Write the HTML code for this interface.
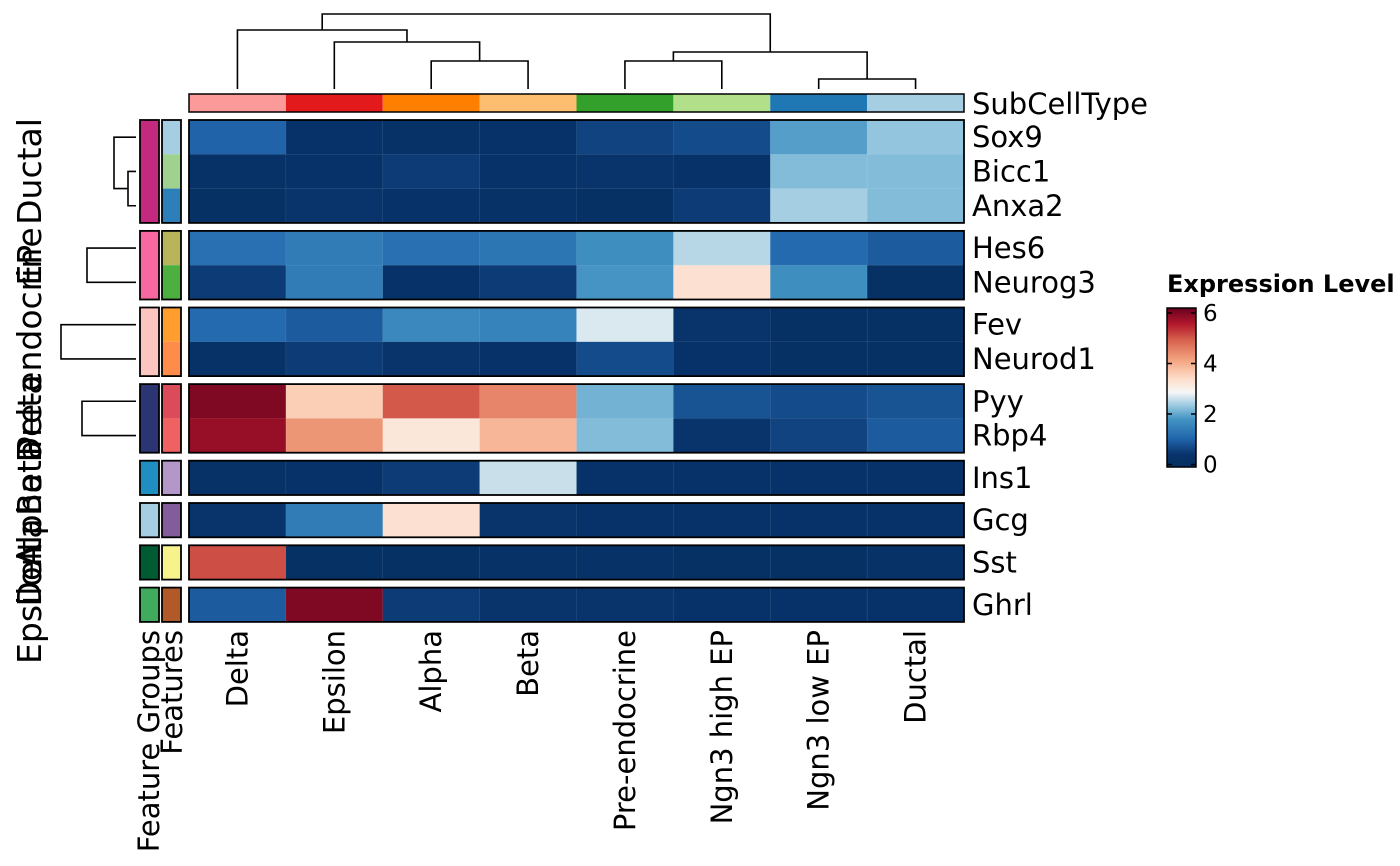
<!DOCTYPE html>
<html><head><meta charset="utf-8"><style>
html,body{margin:0;padding:0;background:#fff;}
svg{display:block;font-family:"DejaVu Sans","Liberation Sans",sans-serif;}
</style></head><body>
<svg id="chart" width="1400" height="866" viewBox="0 0 1400 866" xmlns="http://www.w3.org/2000/svg"></svg>
<script>
const columns=["Delta","Epsilon","Alpha","Beta","Pre-endocrine","Ngn3 high EP","Ngn3 low EP","Ductal"];
const columnColors=["#FB9A99","#E31A1C","#FF7F00","#FDBF6F","#33A02C","#B2DF8A","#1F78B4","#A6CEE3"];
const groups=["Ductal","EP","Pre-endocrine","Delta","Beta","Alpha","Delta","Epsilon"];
const groupColors=["#C2297F","#F768A1","#FCC5C0","#2B3572","#1F8EC0","#A6CEE3","#005A32","#41AB5D"];
const groupRows=[["Sox9","Bicc1","Anxa2"],["Hes6","Neurog3"],["Fev","Neurod1"],["Pyy","Rbp4"],["Ins1"],["Gcg"],["Sst"],["Ghrl"]];
const featureColors={Sox9:"#A6CEE3",Bicc1:"#9ED28E",Anxa2:"#2C7FB8",Hes6:"#B8B45A",Neurog3:"#4DAF3F",Fev:"#FF9E2E",Neurod1:"#FF8C4A",Pyy:"#DC4B5A",Rbp4:"#F06262",Ins1:"#B497C9",Gcg:"#835D9B",Sst:"#F7F28C",Ghrl:"#B15928"};
const Sox9=[1.0,0.3,0.2,0.3,0.6,0.7,1.9,2.3];
const Bicc1=[0.2,0.3,0.5,0.3,0.4,0.3,2.2,2.2];
const Anxa2=[0.1,0.4,0.3,0.2,0.1,0.5,2.4,2.2];
const Hes6=[1.2,1.4,1.2,1.3,1.7,2.5,1.1,0.9];
const Neurog3=[0.5,1.4,0.3,0.5,1.8,3.3,1.7,0.1];
const Fev=[1.1,0.9,1.6,1.5,2.7,0.4,0.1,0.1];
const Neurod1=[0.2,0.5,0.4,0.3,0.7,0.3,0.1,0.1];
const Pyy=[6.0,3.6,5.0,4.5,2.1,0.8,0.7,0.8];
const Rbp4=[5.8,4.3,3.2,3.9,2.2,0.4,0.6,0.9];
const Ins1=[0.2,0.3,0.5,2.6,0.3,0.3,0.3,0.3];
const Gcg=[0.4,1.4,3.3,0.4,0.3,0.3,0.3,0.3];
const Sst=[5.1,0.1,0.1,0.2,0.2,0.1,0.1,0.2];
const Ghrl=[0.9,6.0,0.5,0.4,0.4,0.3,0.3,0.3];
const values={Sox9,Bicc1,Anxa2,Hes6,Neurog3,Fev,Neurod1,Pyy,Rbp4,Ins1,Gcg,Sst,Ghrl};
const legendTicks=[0,2,4,6];

const NS="http://www.w3.org/2000/svg";
const svg=document.getElementById("chart");
function mk(tag,attrs,parent){const e=document.createElementNS(NS,tag);for(const k in attrs)e.setAttribute(k,attrs[k]);(parent||svg).appendChild(e);return e;}
const stops=[[0,"#053061"],[0.08,"#08336B"],[0.18,"#2166AC"],[0.3,"#4393C3"],[0.38,"#92C5DE"],[0.47,"#F7F7F7"],[0.56,"#FDDBC7"],[0.67,"#F4A582"],[0.8,"#D6604D"],[0.9,"#B2182B"],[1,"#67001F"]];
const vmin=-0.1,vmax=6.2;
function hex(h){return [1,3,5].map(i=>parseInt(h.substr(i,2),16));}
function color(v){let t=(v-vmin)/(vmax-vmin);t=Math.max(0,Math.min(1,t));for(let i=1;i<stops.length;i++){if(t<=stops[i][0]){const a=stops[i-1],b=stops[i];const f=(t-a[0])/(b[0]-a[0]);const ca=hex(a[1]),cb=hex(b[1]);return "rgb("+ca.map((c,j)=>Math.round(c+(cb[j]-c)*f)).join(",")+")";}}return stops[stops.length-1][1];}

const X0=189,X1=964,CW=(X1-X0)/columns.length,RH=34.3,GAP=8,Y0=120;
const xc=i=>X0+CW*(i+0.5);
const rowY={};const groupBounds=[];let y=Y0;
groupRows.forEach((rows,g)=>{const top=y;rows.forEach(r=>{rowY[r]=y;y+=RH;});groupBounds.push([top,y]);y+=GAP;});

const dg=mk("g",{fill:"none",stroke:"#000","stroke-width":1.6});
function link(xa,ya,xb,yb,h,p){mk("path",{d:`M${xa},${ya}V${h}H${xb}V${yb}`},p);}
link(xc(2),89,xc(3),89,61,dg);
const ab=(xc(2)+xc(3))/2;
link(xc(1),89,ab,61,42,dg);
const eab=(xc(1)+ab)/2;
link(xc(0),89,eab,42,30,dg);
const left=(xc(0)+eab)/2;
link(xc(4),89,xc(5),89,61,dg);
link(xc(6),89,xc(7),89,79,dg);
const pn=(xc(4)+xc(5))/2,ld=(xc(6)+xc(7))/2;
link(pn,61,ld,79,52,dg);
const right=(pn+ld)/2;
link(left,30,right,52,14,dg);

columns.forEach((c,i)=>{const r=mk("rect",{x:X0+CW*i,y:94,width:CW,height:18,fill:columnColors[i]});

});
mk("rect",{x:X0,y:94,width:X1-X0,height:18,fill:"none",stroke:"#000","stroke-width":1.5,});
const st=mk("text",{x:972,y:114,"font-size":29,});st.textContent="SubCellType";

groupRows.forEach((rows,g)=>{
  rows.forEach(r=>{
    values[r].forEach((v,i)=>{const c=mk("rect",{x:X0+CW*i,y:rowY[r],width:CW+0.3,height:RH+0.3,fill:color(v),stroke:"rgba(255,255,255,0.15)","stroke-width":0.5});
    
    });
    const t=mk("text",{x:972,y:rowY[r]+RH/2+10,"font-size":29});t.textContent=r;
    
    
    const f=mk("rect",{x:162,y:rowY[r],width:19,height:RH,fill:featureColors[r]});
    
    
  });
  const [a,b]=groupBounds[g];
  mk("rect",{x:X0,y:a,width:X1-X0,height:b-a,fill:"none",stroke:"#000","stroke-width":1.8});
  mk("rect",{x:162,y:a,width:19,height:b-a,fill:"none",stroke:"#000","stroke-width":1.8});
  const gr=mk("rect",{x:140,y:a,width:19,height:b-a,fill:groupColors[g],stroke:"#000","stroke-width":1.8});
  
  
  const cy=(a+b)/2;
  const gt=mk("text",{x:0,y:0,"font-size":33,"text-anchor":"middle",transform:`translate(41,${cy}) rotate(-90)`});gt.textContent=groups[g];
  
  
});

const rd=mk("g",{fill:"none",stroke:"#000","stroke-width":1.6});
const mid=r=>rowY[r]+RH/2;
function hl(xl,ya,yb,p){mk("path",{d:`M136,${ya}H${xl}V${yb}H136`},p);}
mk("path",{d:`M136,${mid("Bicc1")}H128V${mid("Anxa2")}H136`},rd);
const bm=(mid("Bicc1")+mid("Anxa2"))/2;
mk("path",{d:`M136,${mid("Sox9")}H114V${bm}H128`},rd);
hl(87,mid("Hes6"),mid("Neurog3"),rd);
hl(61,mid("Fev"),mid("Neurod1"),rd);
hl(82,mid("Pyy"),mid("Rbp4"),rd);

columns.forEach((c,i)=>{const t=mk("text",{x:0,y:0,"font-size":29,"text-anchor":"end",transform:`translate(${xc(i)+10},630) rotate(-90)`});t.textContent=c;

});
[["Feature Groups",159],["Features",182]].forEach(([s,x])=>{const t=mk("text",{x:0,y:0,"font-size":29,"text-anchor":"end",transform:`translate(${x},630) rotate(-90)`});t.textContent=s;

});

const lg=mk("g",{});
const lt=mk("text",{x:1167,y:292,"font-size":24,"font-weight":"bold"},lg);lt.textContent="Expression Level";
const LT=308,LB=467,ly=v=>LB-(v-vmin)/(vmax-vmin)*(LB-LT);
const defs=mk("defs",{});const gr=mk("linearGradient",{id:"lgr",x1:0,y1:1,x2:0,y2:0},defs);
stops.forEach(s=>mk("stop",{offset:s[0],"stop-color":s[1]},gr));
mk("rect",{x:1167,y:LT,width:29,height:LB-LT,fill:"url(#lgr)",stroke:"#000","stroke-width":1.5},lg);
legendTicks.forEach(v=>{const yy=ly(v);mk("path",{d:`M1167,${yy}h5M1191,${yy}h5`,stroke:"#000","stroke-width":1.5},lg);
const t=mk("text",{x:1203,y:yy+8,"font-size":23},lg);t.textContent=v;

});
</script>
</body></html>
